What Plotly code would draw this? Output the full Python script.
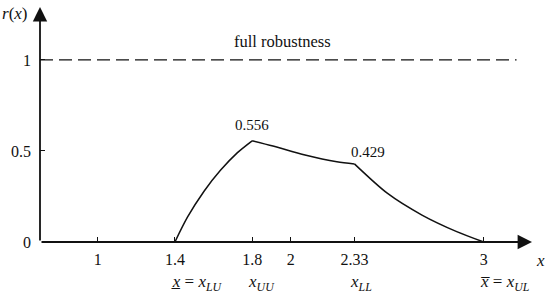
import plotly.graph_objects as go

# robustness curve r(x) (three pieces, kinks at 1.8 and 2.33)
x_rise = [1.4, 1.465, 1.551, 1.637, 1.724, 1.8]
r_rise = [0.0, 0.136, 0.279, 0.395, 0.491, 0.556]
x_mid = [1.8, 1.908, 2.074, 2.239, 2.33]
r_mid = [0.556, 0.527, 0.478, 0.441, 0.429]
x_fall = [2.33, 2.50, 2.68, 2.86, 3.0]
r_fall = [0.429, 0.268, 0.148, 0.057, 0.0]

full_x = [0.701, 3.17]
full_r = [1.0, 1.0]

x_ticks = [1, 1.4, 1.8, 2, 2.33, 3]
x_tick_text = ["1", "1.4", "1.8", "2", "2.33", "3"]
sub_label_x = [1.4, 1.8, 2.33, 3]
sub_labels = [
    "<i>x\u0332</i> = <i>x</i><sub><i>LU</i></sub>",
    "<i>x</i><sub><i>UU</i></sub>",
    "<i>x</i><sub><i>LL</i></sub>",
    "<i>x\u0305</i> = <i>x</i><sub><i>UL</i></sub>",
]
y_ticks = [0, 0.5, 1]
y_tick_text = ["0", "0.5", "1"]

x_range = [0.701, 3.25]
y_range = [0, 1.291]

FONT = "Liberation Serif"
BLACK = "#111111"

fig = go.Figure()
for xs, ys in [(x_rise, r_rise), (x_mid, r_mid), (x_fall, r_fall)]:
    fig.add_trace(go.Scatter(
        x=xs, y=ys, mode="lines",
        line=dict(color=BLACK, width=1.5, shape="spline", smoothing=0.8),
        showlegend=False, hoverinfo="skip"
    ))

fig.add_trace(go.Scatter(
    x=full_x, y=full_r, mode="lines",
    line=dict(color=BLACK, width=1.3, dash="13px,6px"),
    showlegend=False, hoverinfo="skip"
))

# axis arrows
fig.add_annotation(x=x_range[1], y=0, ax=x_range[0], ay=0,
                   xref="x", yref="y", axref="x", ayref="y", text="",
                   showarrow=True, arrowhead=2, arrowsize=1.6, arrowwidth=1.8,
                   arrowcolor=BLACK)
fig.add_annotation(x=x_range[0], y=y_range[1], ax=x_range[0], ay=0,
                   xref="x", yref="y", axref="x", ayref="y", text="",
                   showarrow=True, arrowhead=2, arrowsize=1.6, arrowwidth=1.8,
                   arrowcolor=BLACK)

# texts
fig.add_annotation(x=(full_x[0] + full_x[1]) / 2 + 0.02, y=1.0, yshift=18,
                   text="full robustness", showarrow=False,
                   font=dict(family=FONT, size=16.5, color=BLACK))
fig.add_annotation(x=x_rise[-1], y=r_rise[-1], yshift=16,
                   text=f"{r_rise[-1]:.3f}", showarrow=False,
                   font=dict(family=FONT, size=15, color=BLACK))
fig.add_annotation(x=x_mid[-1], y=r_mid[-1], xshift=14, yshift=12,
                   text=f"{r_mid[-1]:.3f}", showarrow=False,
                   font=dict(family=FONT, size=15, color=BLACK))
fig.add_annotation(x=1, y=0, xref="paper", yref="paper",
                   xanchor="center", yanchor="middle", xshift=8, yshift=-18,
                   text="<i>x</i>", showarrow=False,
                   font=dict(family=FONT, size=17, color=BLACK))
fig.add_annotation(x=0, y=1, xref="paper", yref="paper",
                   xanchor="right", yanchor="top", xshift=-10, yshift=5,
                   text="<i>r</i>(<i>x</i>)", showarrow=False,
                   font=dict(family=FONT, size=17, color=BLACK))
for sx, txt in zip(sub_label_x, sub_labels):
    fig.add_annotation(x=sx, y=0, yshift=-41, xshift=-6, xanchor="left",
                       text=txt, showarrow=False,
                       font=dict(family=FONT, size=17, color=BLACK))

fig.update_layout(
    width=550, height=294,
    margin=dict(l=40, r=18, t=7, b=52),
    plot_bgcolor="white", paper_bgcolor="white",
    font=dict(family=FONT, size=16, color=BLACK),
)
fig.update_xaxes(
    range=x_range, tickvals=x_ticks, ticktext=x_tick_text,
    ticks="inside", ticklen=5, tickwidth=1.2, tickcolor=BLACK,
    showgrid=False, zeroline=False, showline=False,
    ticklabelstandoff=6, tickfont=dict(family=FONT, size=16, color=BLACK)
)
fig.update_yaxes(
    range=y_range, tickvals=y_ticks, ticktext=y_tick_text,
    ticks="inside", ticklen=5, tickwidth=1.2, tickcolor=BLACK,
    showgrid=False, zeroline=False, showline=False,
    ticklabelstandoff=8, tickfont=dict(family=FONT, size=16, color=BLACK)
)

# drop the page's default body margin so the figure sits at the window corner
fig.write_html("out.html", config={"displayModeBar": False},
               post_script="document.body.style.margin='0';")
